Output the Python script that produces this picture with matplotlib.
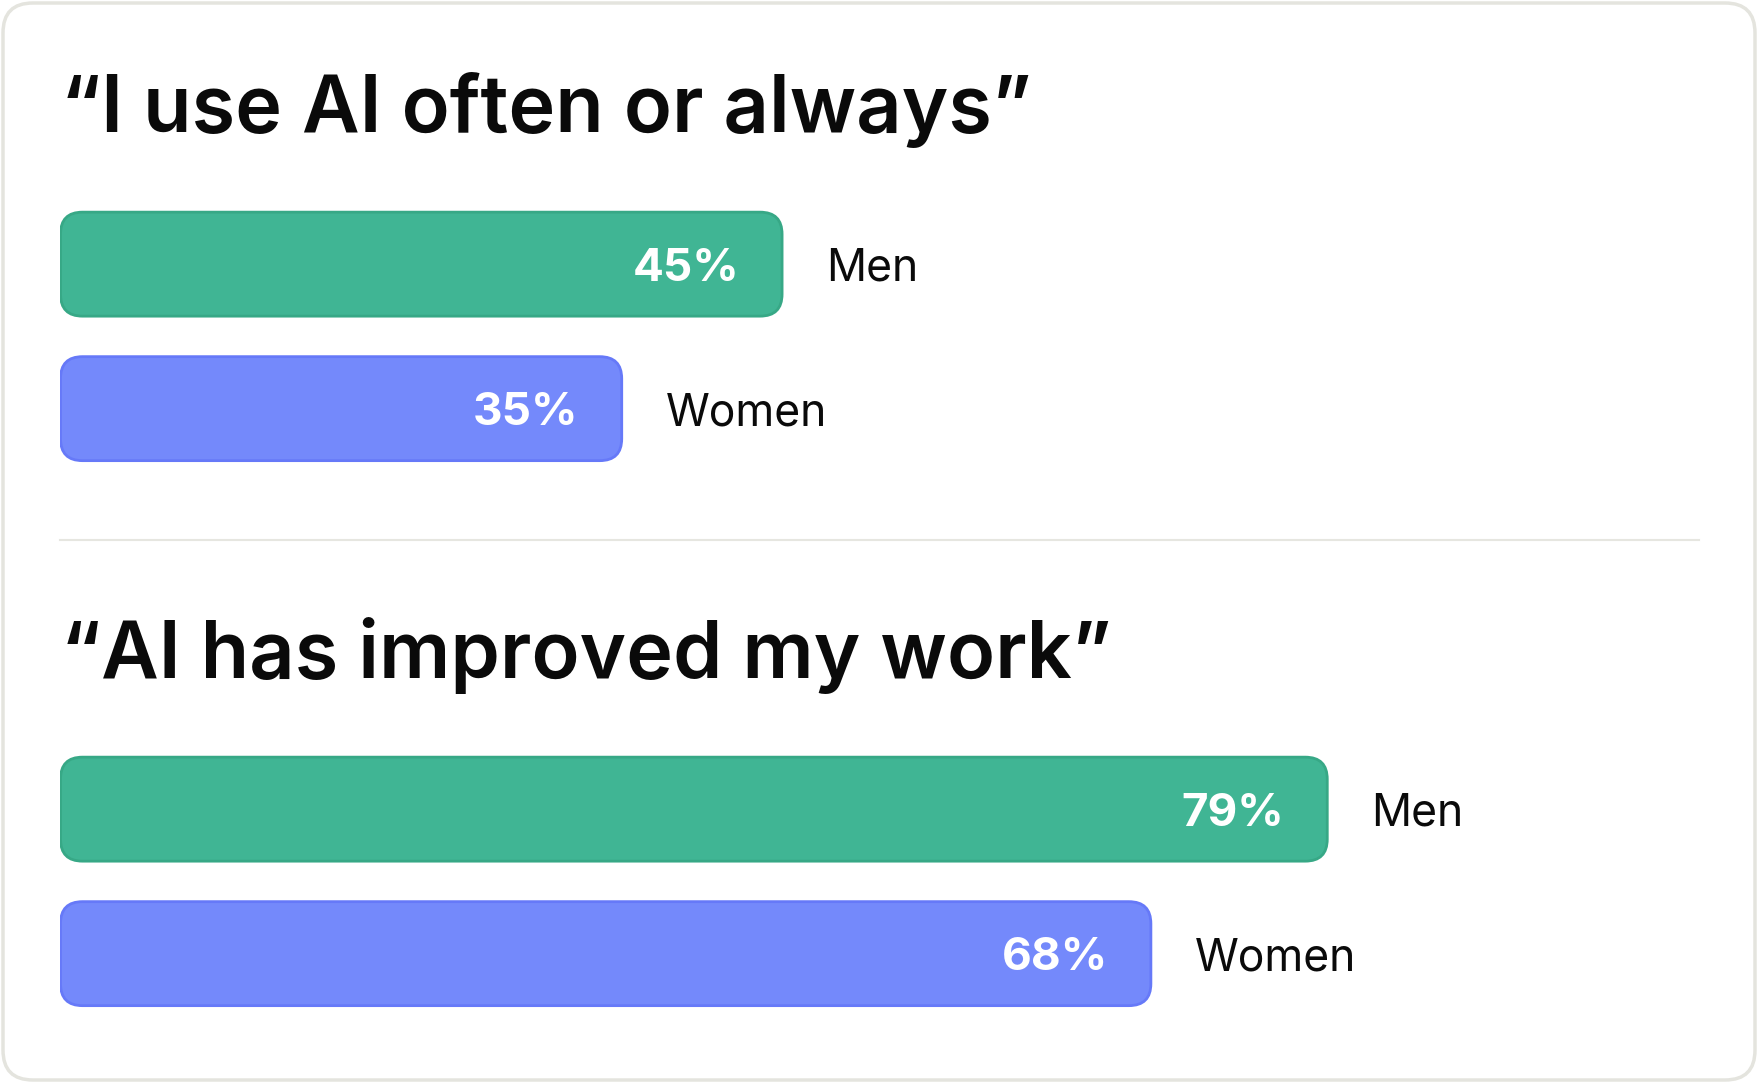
import matplotlib
matplotlib.use("Agg")
import matplotlib.pyplot as plt
from matplotlib.patches import FancyBboxPatch
from matplotlib.lines import Line2D

# ---- data ----
titles = ["\u201cI use AI often or always\u201d", "\u201cAI has improved my work\u201d"]
groups = ["Men", "Women"]
values_often = [45, 35]
values_improved = [79, 68]
colors = ["#40B594", "#7489FB"]
edge_colors = ["#37A886", "#6679F8"]

W, H = 1758, 1083
fig = plt.figure(figsize=(W / 100, H / 100), dpi=100)
fig.patch.set_facecolor("white")

FONT = ["Inter", "DejaVu Sans"]

def fx(x):
    return x / W

def fy(y):
    return 1 - y / H

# card border
card = FancyBboxPatch((fx(3), fy(1080)), fx(1752), 1077 / H,
                      boxstyle="round,pad=0,rounding_size=0.017",
                      mutation_aspect=W / H,
                      transform=fig.transFigure, facecolor="none",
                      edgecolor="#E4E4DE", linewidth=2.5, zorder=-1)
fig.patches.append(card)

# separator
fig.lines.append(Line2D([fx(60.5), fx(1699)], [fy(540), fy(540)],
                        transform=fig.transFigure, color="#E6E6E0", linewidth=1.5))

x0, x1 = 60.5, 1664.0
pitch = 144.5
panels = [
    (titles[0], values_often, 132, 336.4),
    (titles[1], values_improved, 678, 881.4),
]

for title, vals, base_y, mid_y in panels:
    fig.text(fx(61), fy(base_y), title, fontsize=57, fontweight="semibold",
             family=FONT, color="#0A0A0A", ha="left", va="baseline")
    top = mid_y - pitch
    ax = fig.add_axes([fx(x0), fy(top + 2 * pitch), fx(x1) - fx(x0), 2 * pitch / H])
    ax.set_xlim(0, 100)
    ax.set_ylim(1.5, -0.5)
    ax.axis("off")
    aspect = (1 / pitch) / (100 / (x1 - x0))
    r = 22 * 100 / (x1 - x0)
    h = 104 / pitch
    for i, (g, v) in enumerate(zip(groups, vals)):
        p = FancyBboxPatch((0, i - h / 2), v, h,
                           boxstyle=f"round,pad=0,rounding_size={r}",
                           mutation_aspect=aspect,
                           facecolor=colors[i], edgecolor=edge_colors[i],
                           linewidth=2.0)
        ax.add_patch(p)
        ax.annotate(f"{v}%", xy=(v, i), xytext=(-43, 0), textcoords="offset pixels",
                    ha="right", va="center_baseline", fontsize=33, fontweight="bold",
                    family=FONT, color="white")
        ax.annotate(g, xy=(v, i), xytext=(44, 0), textcoords="offset pixels",
                    ha="left", va="center_baseline", fontsize=32,
                    family=FONT, color="#0A0A0A")

fig.savefig("out.png", dpi=100, facecolor="white")
